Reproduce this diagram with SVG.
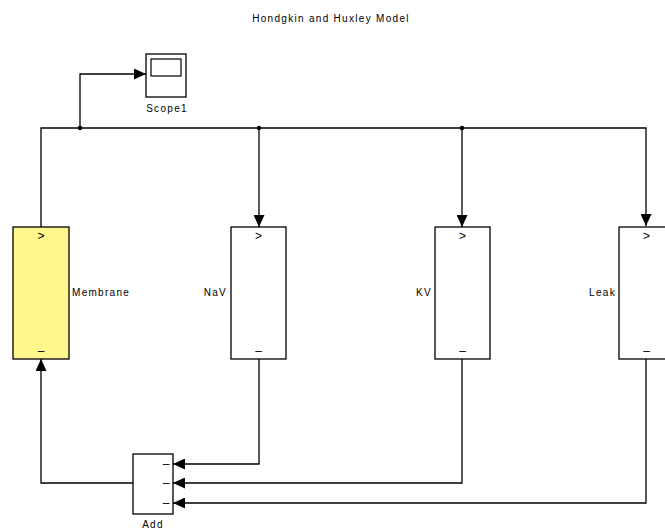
<svg xmlns="http://www.w3.org/2000/svg" width="665" height="531" viewBox="0 0 665 531">
<defs>
<style>
.blk{fill:#fff;stroke:#000;stroke-width:1.3}
.lbl{font-family:"Liberation Sans",Arial,sans-serif;font-size:10px;letter-spacing:1.3px;fill:#000}
.port{font-family:"Liberation Sans",Arial,sans-serif;font-size:12px;fill:#000;text-anchor:middle}
.wire{fill:none;stroke:#000;stroke-width:1.3}
</style>
<marker id="ah" markerWidth="12" markerHeight="11" refX="12" refY="5.5" orient="auto" markerUnits="userSpaceOnUse">
<path d="M0,0 L12,5.5 L0,11 Z" fill="#000"/>
</marker>
</defs>
<rect width="665" height="531" fill="#fff"/>
<text class="lbl" x="331" y="22" text-anchor="middle">Hondgkin and Huxley Model</text>

<g id="connectors">
<path class="wire" d="M41,227 V128 H646 V226" marker-end="url(#ah)"/>
<path class="wire" d="M80,128 V74 H146" marker-end="url(#ah)"/>
<path class="wire" d="M259,128 V227" marker-end="url(#ah)"/>
<path class="wire" d="M462,128 V227" marker-end="url(#ah)"/>
<path class="wire" d="M259,359 V464 H173" marker-end="url(#ah)"/>
<path class="wire" d="M462,359 V483 H173" marker-end="url(#ah)"/>
<path class="wire" d="M646,359 V503 H173" marker-end="url(#ah)"/>
<path class="wire" d="M133,483 H41 V359" marker-end="url(#ah)"/>
<circle cx="80" cy="128" r="2.2" fill="#000"/>
<circle cx="259" cy="128" r="2.2" fill="#000"/>
<circle cx="462" cy="128" r="2.2" fill="#000"/>
</g>

<g id="scope1">
<rect class="blk" x="146" y="54" width="40" height="43"/>
<rect x="151" y="59" width="30" height="17" fill="none" stroke="#000" stroke-width="1.2"/>
<text class="lbl" x="167" y="112" text-anchor="middle">Scope1</text>
</g>

<g id="membrane">
<rect class="blk" x="13" y="227" width="56" height="132" style="fill:#fff68c"/>
<text class="port" x="41" y="240">&gt;</text>
<text class="port" x="41" y="355">–</text>
<text class="lbl" x="72" y="296">Membrane</text>
</g>

<g id="nav">
<rect class="blk" x="231" y="227" width="55" height="132"/>
<text class="port" x="258.5" y="240">&gt;</text>
<text class="port" x="258.5" y="355">–</text>
<text class="lbl" x="227" y="296" text-anchor="end">NaV</text>
</g>

<g id="kv">
<rect class="blk" x="435" y="227" width="55" height="132"/>
<text class="port" x="462.5" y="240">&gt;</text>
<text class="port" x="462.5" y="355">–</text>
<text class="lbl" x="432" y="296" text-anchor="end">KV</text>
</g>

<g id="leak">
<rect class="blk" x="619" y="227" width="55" height="132"/>
<text class="port" x="646.5" y="240">&gt;</text>
<text class="port" x="646.5" y="355">–</text>
<text class="lbl" x="616" y="296" text-anchor="end">Leak</text>
</g>

<g id="add">
<rect class="blk" x="133" y="454" width="40" height="60"/>
<text class="port" x="166" y="468">–</text>
<text class="port" x="166" y="487">–</text>
<text class="port" x="166" y="507">–</text>
<text class="lbl" x="153" y="528" text-anchor="middle">Add</text>
</g>
</svg>
